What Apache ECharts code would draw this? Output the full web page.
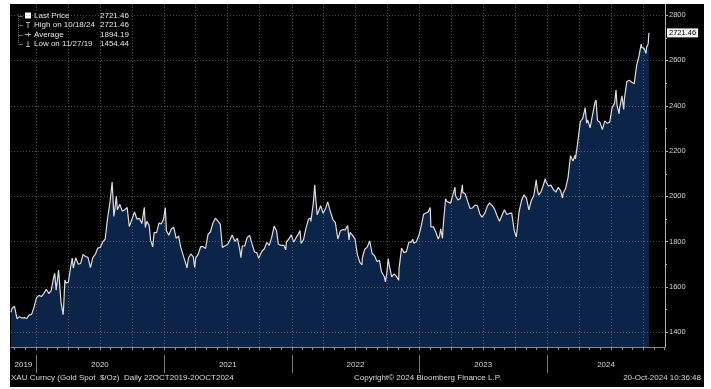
<!DOCTYPE html>
<html><head><meta charset="utf-8">
<script src="https://cdn.jsdelivr.net/npm/echarts@6/dist/echarts.min.js"></script>
<style>
html,body{margin:0;padding:0;background:#fff;width:711px;height:389px;overflow:hidden}
#c{position:absolute;left:10px;top:4px;width:694px;height:383px;background:#000}
</style></head><body><div id="c"></div>
<script>
const dates = [
'2019-10-22','2019-10-25','2019-11-01','2019-11-08','2019-11-15','2019-11-22','2019-11-27','2019-11-29','2019-12-06','2019-12-13','2019-12-20','2019-12-27',
'2020-01-03','2020-01-08','2020-01-10','2020-01-17','2020-01-24','2020-01-31','2020-02-07','2020-02-14','2020-02-21','2020-02-24','2020-02-28','2020-03-06','2020-03-09','2020-03-13','2020-03-19','2020-03-20','2020-03-24','2020-03-27','2020-04-03','2020-04-09','2020-04-14','2020-04-17','2020-04-24','2020-05-01','2020-05-08','2020-05-15','2020-05-22','2020-05-29','2020-06-05','2020-06-12','2020-06-19','2020-06-26','2020-07-03','2020-07-10','2020-07-17','2020-07-24','2020-07-31','2020-08-06','2020-08-07','2020-08-11','2020-08-14','2020-08-18','2020-08-21','2020-08-28','2020-09-04','2020-09-11','2020-09-18','2020-09-24','2020-10-02','2020-10-09','2020-10-16','2020-10-23','2020-10-30','2020-11-06','2020-11-09','2020-11-13','2020-11-20','2020-11-24','2020-11-30','2020-12-04','2020-12-11','2020-12-18','2020-12-24','2020-12-31',
'2021-01-05','2021-01-08','2021-01-15','2021-01-22','2021-01-29','2021-02-05','2021-02-12','2021-02-18','2021-02-26','2021-03-05','2021-03-08','2021-03-12','2021-03-19','2021-03-26','2021-03-30','2021-04-02','2021-04-09','2021-04-16','2021-04-23','2021-04-30','2021-05-07','2021-05-14','2021-05-21','2021-05-28','2021-06-01','2021-06-04','2021-06-11','2021-06-17','2021-06-25','2021-07-02','2021-07-09','2021-07-15','2021-07-23','2021-07-30','2021-08-06','2021-08-09','2021-08-13','2021-08-20','2021-08-27','2021-09-03','2021-09-10','2021-09-17','2021-09-24','2021-09-29','2021-10-08','2021-10-15','2021-10-22','2021-10-29','2021-11-05','2021-11-12','2021-11-16','2021-11-19','2021-11-24','2021-12-03','2021-12-10','2021-12-15','2021-12-17','2021-12-24','2021-12-31',
'2022-01-07','2022-01-14','2022-01-21','2022-01-25','2022-01-28','2022-02-04','2022-02-11','2022-02-18','2022-02-24','2022-02-25','2022-03-04','2022-03-08','2022-03-11','2022-03-15','2022-03-18','2022-03-25','2022-04-01','2022-04-08','2022-04-14','2022-04-18','2022-04-22','2022-04-29','2022-05-06','2022-05-13','2022-05-16','2022-05-20','2022-05-27','2022-06-03','2022-06-10','2022-06-14','2022-06-17','2022-06-24','2022-07-01','2022-07-08','2022-07-15','2022-07-21','2022-07-22','2022-07-29','2022-08-05','2022-08-12','2022-08-15','2022-08-19','2022-08-26','2022-09-02','2022-09-09','2022-09-15','2022-09-23','2022-09-26','2022-09-30','2022-10-04','2022-10-07','2022-10-14','2022-10-21','2022-10-28','2022-11-03','2022-11-04','2022-11-10','2022-11-11','2022-11-18','2022-11-25','2022-12-02','2022-12-09','2022-12-13','2022-12-16','2022-12-23','2022-12-30',
'2023-01-06','2023-01-13','2023-01-20','2023-01-26','2023-02-01','2023-02-03','2023-02-10','2023-02-17','2023-02-24','2023-02-28','2023-03-03','2023-03-08','2023-03-10','2023-03-17','2023-03-20','2023-03-24','2023-03-31','2023-04-07','2023-04-13','2023-04-14','2023-04-21','2023-04-28','2023-05-04','2023-05-05','2023-05-12','2023-05-19','2023-05-26','2023-06-02','2023-06-09','2023-06-16','2023-06-23','2023-06-29','2023-07-07','2023-07-14','2023-07-20','2023-07-21','2023-07-28','2023-08-04','2023-08-11','2023-08-18','2023-08-25','2023-09-01','2023-09-08','2023-09-15','2023-09-22','2023-09-29','2023-10-05','2023-10-06','2023-10-13','2023-10-20','2023-10-27','2023-11-03','2023-11-10','2023-11-17','2023-11-24','2023-12-01','2023-12-04','2023-12-08','2023-12-15','2023-12-22','2023-12-27','2023-12-29',
'2024-01-05','2024-01-12','2024-01-19','2024-01-26','2024-02-02','2024-02-09','2024-02-14','2024-02-16','2024-02-23','2024-03-01','2024-03-08','2024-03-15','2024-03-21','2024-03-22','2024-03-28','2024-04-05','2024-04-12','2024-04-19','2024-04-23','2024-04-26','2024-05-03','2024-05-10','2024-05-17','2024-05-20','2024-05-24','2024-05-31','2024-06-07','2024-06-14','2024-06-21','2024-06-28','2024-07-05','2024-07-12','2024-07-16','2024-07-19','2024-07-25','2024-07-26','2024-08-02','2024-08-07','2024-08-09','2024-08-16','2024-08-20','2024-08-23','2024-08-30','2024-09-06','2024-09-13','2024-09-20','2024-09-26','2024-09-27','2024-10-04','2024-10-10','2024-10-11','2024-10-16','2024-10-18'
];
const prices = [
1487,1505,1514,1459,1468,1462,1454.44,1464,1460,1476,1478,1511,
1552,1556,1562,1557,1571,1589,1570,1584,1643,1659,1585,1674,1680,1530,1477,1498,1630,1617,1620,1683,1727,1683,1728,1700,1703,1743,1734,1730,1685,1730,1743,1771,1774,1798,1810,1902,1975,2063,2035,1911,1944,2000,1940,1964,1934,1940,1950,1866,1900,1930,1899,1902,1879,1951,1862,1889,1871,1806,1776,1839,1839,1882,1877,1898,
1950,1849,1828,1855,1863,1814,1824,1775,1734,1700,1683,1727,1745,1732,1685,1728,1744,1777,1777,1769,1831,1843,1881,1903,1905,1891,1877,1774,1781,1787,1808,1829,1801,1814,1763,1729,1780,1781,1818,1827,1788,1754,1750,1726,1757,1768,1796,1783,1818,1868,1863,1846,1788,1783,1783,1763,1798,1811,1829,
1797,1818,1835,1848,1791,1808,1859,1898,1904,1889,1970,2050,1988,1918,1921,1958,1925,1946,1975,1979,1931,1897,1883,1811,1813,1846,1853,1851,1871,1807,1840,1827,1812,1742,1708,1697,1727,1766,1775,1802,1779,1747,1737,1712,1717,1665,1644,1622,1661,1725,1695,1644,1657,1645,1629,1681,1755,1771,1751,1755,1797,1797,1810,1793,1798,1824,
1866,1920,1926,1930,1950,1865,1865,1842,1811,1827,1856,1814,1868,1989,1978,1978,1969,2007,2040,2004,1983,1990,2050,2017,2011,1977,1946,1948,1961,1958,1921,1908,1925,1955,1970,1962,1959,1943,1914,1889,1915,1940,1919,1924,1925,1849,1820,1833,1932,1981,2006,1992,1940,1981,2002,2072,2030,2005,2020,2053,2077,2063,
2045,2049,2029,2018,2039,2024,1992,2013,2035,2083,2179,2155,2181,2165,2230,2330,2344,2391,2322,2337,2302,2360,2415,2425,2334,2327,2294,2333,2322,2327,2392,2411,2469,2400,2364,2387,2443,2383,2431,2507,2514,2512,2503,2497,2578,2622,2672,2658,2653,2630,2656,2674,2721.46
];
const yTickLabels = [1400,1600,1800,2000,2200,2400,2600,2800];
const yearLabels = ['2019','2020','2021','2022','2023','2024'];
const legendLabels = ['Last Price','High on 10/18/24','Average','Low on 11/27/19'];
const legendValues = ['2721.46','2721.46','1894.19','1454.44'];
const lastPrice = 2721.46;
const footerLeft = 'XAU Curncy (Gold Spot  $/Oz)  Daily 22OCT2019-20OCT2024';
const footerMid = 'Copyright\u00A9 2024 Bloomberg Finance L.P.';
const footerRight = '20-Oct-2024 10:36:48';
const xMinStr = '2019-10-22', xMaxStr = '2024-12-03';
const yMin = 1334, yMax = 2849;

const FONT = "'Liberation Sans', Arial, sans-serif";
const ts = s => new Date(s + 'T00:00:00').getTime();
const xMin = ts(xMinStr), xMax = ts(xMaxStr);
const seriesData = dates.map((d, i) => [ts(d), prices[i]]);

const months = [], quarters = [];
for (let y = 2019; y <= 2024; y++) for (let m = 1; m <= 12; m++) {
  const s = y + '-' + String(m).padStart(2, '0') + '-01';
  const t = ts(s);
  if (t > xMin && t <= xMax) { months.push([t, yMin]); if ((m - 1) % 3 === 0) quarters.push([t, yMin]); }
}
const years = yearLabels.map(l => {
  const y = +l;
  const a = Math.max(ts(y + '-01-01'), xMin), b = Math.min(ts((y + 1) + '-01-01'), xMax);
  return [a, yMin, b, l];
});
const minorY = [];
for (let v = yTickLabels[0]; v <= yTickLabels[yTickLabels.length - 1]; v += 100) minorY.push([xMax, v]);

const px = v => Math.round(v) + 0.5;
const gridStyle = { stroke: 'rgba(150,150,150,0.5)', lineWidth: 1, lineDash: [1, 2] };

const chart = echarts.init(document.getElementById('c'), null, { renderer: 'canvas' });
const legendEls = [];
legendEls.push({ type: 'line', shape: { x1: 8.5, y1: 10, x2: 8.5, y2: 40 }, style: { stroke: '#666', lineWidth: 1, lineDash: [1, 1] } });
const rowsY = [11.5, 21, 30.5, 40];
rowsY.forEach((ry, i) => {
  legendEls.push({ type: 'line', shape: { x1: 8.5, y1: Math.round(ry) + 0.5, x2: 13, y2: Math.round(ry) + 0.5 }, style: { stroke: '#666', lineWidth: 1 } });
  legendEls.push({ type: 'text', x: 24, y: ry, style: { text: legendLabels[i], fill: '#e2e2e2', fontSize: 8, fontFamily: FONT, verticalAlign: 'middle' } });
  legendEls.push({ type: 'text', x: 90, y: ry, style: { text: legendValues[i], fill: '#e2e2e2', fontSize: 8, fontFamily: FONT, verticalAlign: 'middle' } });
});
legendEls.push({ type: 'rect', shape: { x: 15, y: 8.5, width: 6, height: 6 }, style: { fill: '#fff' } });
legendEls.push({ type: 'line', shape: { x1: 16, y1: 18.5, x2: 20, y2: 18.5 }, style: { stroke: '#aaa', lineWidth: 1 } });
legendEls.push({ type: 'line', shape: { x1: 18, y1: 18.5, x2: 18, y2: 24 }, style: { stroke: '#aaa', lineWidth: 1 } });
legendEls.push({ type: 'line', shape: { x1: 15, y1: 30.5, x2: 21, y2: 30.5 }, style: { stroke: '#aaa', lineWidth: 1 } });
legendEls.push({ type: 'line', shape: { x1: 18.5, y1: 28.5, x2: 18.5, y2: 32.5 }, style: { stroke: '#aaa', lineWidth: 1 } });
legendEls.push({ type: 'line', shape: { x1: 18, y1: 37, x2: 18, y2: 42.5 }, style: { stroke: '#aaa', lineWidth: 1 } });
legendEls.push({ type: 'line', shape: { x1: 16, y1: 42.5, x2: 20, y2: 42.5 }, style: { stroke: '#aaa', lineWidth: 1 } });

const footerEls = [
  { type: 'text', x: 1, y: 374, style: { text: footerLeft, fill: '#d8d8d8', fontSize: 8, fontFamily: FONT, verticalAlign: 'middle' } },
  { type: 'text', x: 344, y: 374, style: { text: footerMid, fill: '#d8d8d8', fontSize: 8, fontFamily: FONT, verticalAlign: 'middle' } },
  { type: 'text', x: 691, y: 374, style: { text: footerRight, fill: '#d8d8d8', fontSize: 8, fontFamily: FONT, align: 'right', verticalAlign: 'middle' } }
];

chart.setOption({
  backgroundColor: '#000',
  animation: false,
  grid: { left: 1, right: 39, top: 0, bottom: 40, containLabel: false },
  xAxis: {
    type: 'time', min: xMin, max: xMax,
    axisLine: { show: true, lineStyle: { color: '#8a8a8a', width: 1 } },
    axisTick: { show: false }, axisLabel: { show: false }, splitLine: { show: false }
  },
  yAxis: {
    type: 'value', position: 'right', min: yMin, max: yMax, splitNumber: 7, scale: true,
    axisLine: { show: true, lineStyle: { color: '#b0b0b0', width: 1 } },
    axisTick: { show: false },
    splitLine: { show: false },
    axisLabel: {
      show: true, margin: 4, color: '#d2d2d2', fontSize: 7.5, fontFamily: FONT,
      showMinLabel: false, showMaxLabel: false,
      formatter: v => (yTickLabels.indexOf(Math.round(v)) >= 0 ? String(Math.round(v)) : '')
    }
  },
  graphic: { elements: legendEls.concat(footerEls) },
  series: [
    {
      name: 'area', type: 'line', data: seriesData, z: 1, silent: true,
      showSymbol: false, symbol: 'none',
      lineStyle: { width: 0 },
      areaStyle: { color: '#0d2449', opacity: 1 }
    },
    {
      name: 'hgrid', type: 'custom', z: 2, silent: true, clip: false,
      data: yTickLabels.map(v => [xMin, v]),
      renderItem: (params, api) => {
        const cs = params.coordSys;
        const y = px(api.coord([api.value(0), api.value(1)])[1]);
        return { type: 'line', shape: { x1: cs.x, y1: y, x2: cs.x + cs.width, y2: y }, style: gridStyle };
      }
    },
    {
      name: 'vgrid', type: 'custom', z: 2, silent: true, clip: false,
      data: quarters,
      renderItem: (params, api) => {
        const cs = params.coordSys;
        const x = px(api.coord([api.value(0), api.value(1)])[0]);
        return { type: 'line', shape: { x1: x, y1: cs.y, x2: x, y2: cs.y + cs.height }, style: gridStyle };
      }
    },
    {
      name: 'Last Price', type: 'line', data: seriesData, z: 3,
      showSymbol: false, symbol: 'none',
      lineStyle: { color: '#dcdcdc', width: 1.2 },
      markLine: {
        silent: true, symbol: 'none', animation: false,
        lineStyle: { color: 'rgba(0,0,0,0)', width: 0, type: 'solid' },
        label: {
          show: true, position: 'end', distance: 2, formatter: () => lastPrice.toFixed(2),
          color: '#000', backgroundColor: '#f2f2f2', padding: [1, 2, 0, 2],
          fontSize: 7.5, fontFamily: FONT
        },
        data: [{ yAxis: lastPrice }]
      }
    },
    {
      name: 'monthTicks', type: 'custom', z: 4, silent: true, clip: false,
      data: months,
      renderItem: (params, api) => {
        const cs = params.coordSys;
        const x = px(api.coord([api.value(0), api.value(1)])[0]);
        const b = cs.y + cs.height;
        return { type: 'line', shape: { x1: x, y1: b, x2: x, y2: b + 3 }, style: { stroke: '#8a8a8a', lineWidth: 1 } };
      }
    },
    {
      name: 'yTicks', type: 'custom', z: 4, silent: true, clip: false,
      data: minorY,
      renderItem: (params, api) => {
        const cs = params.coordSys;
        const v = api.value(1);
        const y = px(api.coord([api.value(0), v])[1]);
        const r = cs.x + cs.width;
        const len = (v % 200 === 0) ? 3 : 2;
        return { type: 'line', shape: { x1: r, y1: y, x2: r + len, y2: y }, style: { stroke: '#b0b0b0', lineWidth: 1 } };
      }
    },
    {
      name: 'years', type: 'custom', z: 4, silent: true, clip: false,
      data: years,
      dimensions: ['start', 'y', 'end', 'label'],
      encode: { x: 0, y: 1 },
      renderItem: (params, api) => {
        const cs = params.coordSys;
        const b = cs.y + cs.height;
        const xa = api.coord([api.value(0), yMin])[0];
        const xb = api.coord([api.value(2), yMin])[0];
        const item = years[params.dataIndex];
        const children = [{
          type: 'text', x: (xa + xb) / 2, y: b + 18,
          style: { text: item[3], fill: '#d2d2d2', fontSize: 8, fontFamily: FONT, align: 'center', verticalAlign: 'middle' }
        }];
        if (params.dataIndex > 0) {
          children.push({ type: 'line', shape: { x1: px(xa), y1: b + 8, x2: px(xa), y2: b + 26 }, style: { stroke: '#777', lineWidth: 1 } });
        }
        return { type: 'group', children };
      }
    }
  ]
});
</script></body></html>
